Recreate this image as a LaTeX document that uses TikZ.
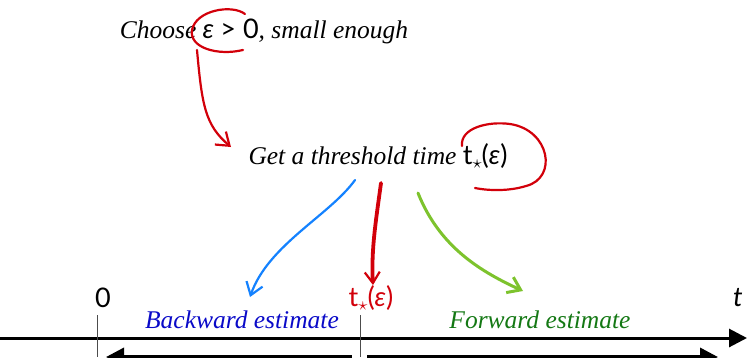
\documentclass[tikz,border=0pt]{standalone}
\usepackage{fontspec}
\setmainfont{Liberation Serif}
\newfontfamily\sfm{Lato}
\usetikzlibrary{arrows.meta}
\definecolor{hred}{RGB}{210,0,10}
\definecolor{hblue}{RGB}{20,130,255}
\definecolor{hgreen}{RGB}{125,195,45}
\definecolor{tblue}{RGB}{10,10,200}
\definecolor{tgreen}{RGB}{20,120,20}
\newcommand{\tst}{{\sfm t}\raisebox{-0.3ex}{\scalebox{0.75}{$\star$}}{\sfm(\itshape ε\/\upshape)}}
\tikzset{
  txt/.style={font=\fontsize{25.5}{30}\selectfont\itshape, inner sep=0pt},
  lab/.style={font=\fontsize{27}{31}\selectfont\sfm, inner sep=0pt},
  hand/.style={line width=2.2pt, line cap=round},
  barb/.style={-{Straight Barb[length=12pt,width=17pt,line width=2.2pt]}},
  axis/.style={line width=3pt, -{Triangle[length=18pt,width=18pt]}},
  tick/.style={line width=0.6pt, draw=black!70}
}
\begin{document}
\begin{tikzpicture}[x=1pt,y=-1pt]
\useasboundingbox (0,0) rectangle (747,357);
\clip (0,0) rectangle (747,357);
% texts
\node[txt] (choose) at (264,31) {Choose {\fontsize{27}{31}\selectfont\sfm\itshape ε\/ \upshape> 0}, small enough};
\node[txt] (get) at (378,156) {Get a threshold time {\upshape\fontsize{27}{31}\selectfont\tst}};
\node[lab] (zero) at (103,298) {0};
\node[lab, text=hred] (tlab) at (371,298) {\tst};
\node[lab] (tt) at (738,298) {\itshape t};
\node[txt, text=tblue] (back) at (242,320) {Backward estimate};
\node[txt, text=tgreen] (fwd) at (540,320) {Forward estimate};
% coordinates
\coordinate (c1s) at (245,14);
\coordinate (c1e) at (243,50);
\coordinate (a1s) at (197,50);
\coordinate (a1e) at (231,147);
\coordinate (c2s) at (462,146);
\coordinate (c2e) at (475,188);
\coordinate (bs) at (355,180);
\coordinate (be) at (250,297);
\coordinate (rs) at (381,183);
\coordinate (re) at (373,285);
\coordinate (gs) at (418,193);
\coordinate (ge) at (523,291);
\coordinate (axs) at (0,338);
\coordinate (axe) at (747,338);
\coordinate (t0a) at (97,315);
\coordinate (t0b) at (97,357);
\coordinate (t1a) at (360,315);
\coordinate (t1b) at (360,357);
\coordinate (la) at (352,357);
\coordinate (lb) at (106,357);
\coordinate (ra) at (367,357);
\coordinate (rb) at (718,357);
% red loops
\draw[hand, hred] (c1s) .. controls (232,4) and (196,10) .. (192,30) .. controls (189,48) and (218,56) .. (c1e);
\draw[hand, hred, barb] (a1s) .. controls (202,105) and (205,125) .. (a1e);
\draw[hand, hred] (c2s) .. controls (460,128) and (488,121) .. (510,124) .. controls (550,130) and (558,178) .. (526,186) .. controls (510,191) and (490,191) .. (c2e);
% arrows to axis
\draw[hand, hblue, barb] (bs) .. controls (330,215) and (268,245) .. (be);
\draw[line width=3.8pt, line cap=round, hred, -{Straight Barb[length=11pt,width=15pt,line width=2.2pt]}] (rs) .. controls (376,220) and (371,250) .. (re);
\draw[line width=3pt, line cap=round, hgreen, -{Straight Barb[length=12pt,width=17pt,line width=3pt]}] (gs) .. controls (440,248) and (482,272) .. (ge);
% axis
\draw[axis] (axs) -- (axe);
\draw[tick] (t0a) -- (t0b);
\draw[tick] (t1a) -- (t1b);
\draw[line width=3.5pt, -{Triangle[length=18pt,width=18pt]}] (la) -- (lb);
\draw[line width=3.5pt, -{Triangle[length=18pt,width=18pt]}] (ra) -- (rb);
\end{tikzpicture}
\end{document}
